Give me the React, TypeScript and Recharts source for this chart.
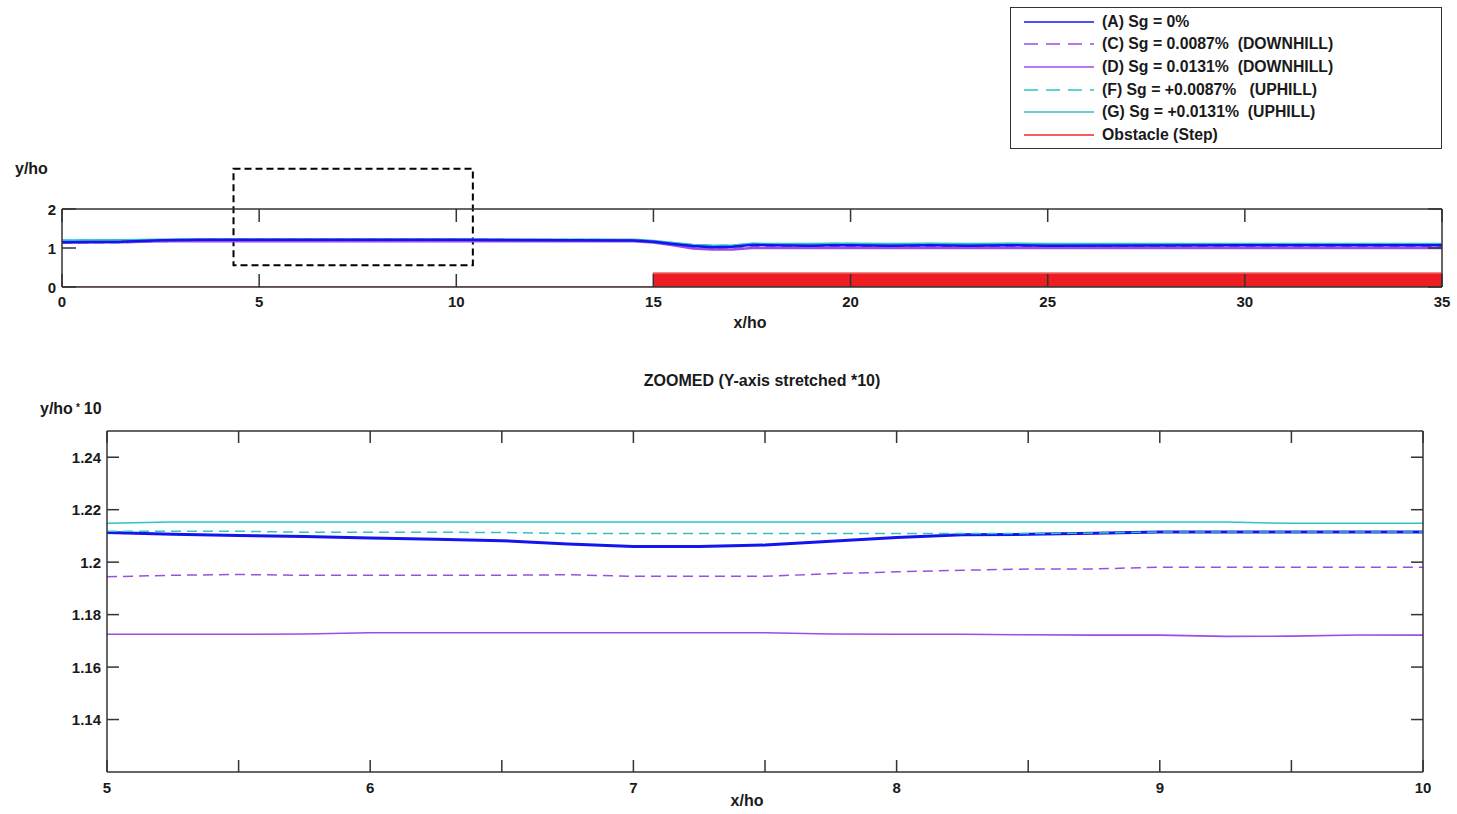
import React from 'react';
import { ComposedChart, Line, Area, XAxis, YAxis, ReferenceArea } from 'recharts';

const FONT = '"Liberation Sans", Arial, Helvetica, sans-serif';
const AXIS_COLOR = '#333333';
const TEXT_COLOR = '#1a1a1a';

// ---------- Overview chart data (x/ho 0..35) ----------
const overviewX = [0, 1.5, 2.5, 3.5, 5, 10, 14.5, 15, 15.5, 16, 16.5, 17, 17.5, 18, 19, 19.5, 20, 21, 22, 23, 24, 25, 30, 35];
const overviewA = [1.15, 1.16, 1.2, 1.21, 1.211, 1.2115, 1.19, 1.16, 1.1, 1.05, 1.02, 1.03, 1.08, 1.07, 1.06, 1.07, 1.07, 1.06, 1.07, 1.06, 1.07, 1.06, 1.07, 1.07];
const overviewC = [1.14, 1.15, 1.18, 1.19, 1.194, 1.198, 1.19, 1.16, 1.09, 1.02, 0.98, 0.98, 1.02, 1.03, 1.03, 1.03, 1.03, 1.03, 1.03, 1.03, 1.03, 1.03, 1.03, 1.03];
const overviewD = [1.14, 1.15, 1.17, 1.17, 1.1725, 1.1722, 1.17, 1.14, 1.07, 0.99, 0.96, 0.96, 1.0, 1.0, 1.0, 1.0, 1.0, 1.0, 1.0, 1.0, 1.0, 1.0, 1.0, 1.0];
const overviewF = [1.18, 1.19, 1.2, 1.21, 1.2118, 1.2115, 1.2, 1.17, 1.12, 1.07, 1.05, 1.06, 1.1, 1.09, 1.08, 1.1, 1.1, 1.09, 1.1, 1.09, 1.1, 1.09, 1.09, 1.09];
const overviewG = [1.19, 1.2, 1.21, 1.215, 1.2148, 1.2148, 1.21, 1.18, 1.13, 1.08, 1.06, 1.06, 1.11, 1.1, 1.1, 1.11, 1.11, 1.1, 1.11, 1.1, 1.11, 1.1, 1.1, 1.1];
const obstacle = [0, 0, 0, 0, 0, 0, 0, 0.36, 0.36, 0.36, 0.36, 0.36, 0.36, 0.36, 0.36, 0.36, 0.36, 0.36, 0.36, 0.36, 0.36, 0.36, 0.36, 0.36];
const overviewTicksX = [0, 5, 10, 15, 20, 25, 30, 35];
const overviewTicksY = [0, 1, 2];
const zoomWindowX = [4.35, 10.42];
const zoomWindowY = [0.56, 3.03];

// ---------- Zoomed chart data (x/ho 5..10) ----------
const zoomX = [5, 5.25, 5.5, 5.75, 6, 6.25, 6.5, 6.75, 7, 7.25, 7.5, 7.75, 8, 8.25, 8.5, 8.75, 9, 9.25, 9.5, 9.75, 10];
const zoomA = [1.2113, 1.2106, 1.2102, 1.2098, 1.2092, 1.2087, 1.2082, 1.2069, 1.206, 1.206, 1.2065, 1.208, 1.2094, 1.2104, 1.2106, 1.211, 1.2115, 1.2115, 1.2115, 1.2115, 1.2115];
const zoomC = [1.1944, 1.195, 1.1953, 1.195, 1.195, 1.195, 1.195, 1.1952, 1.1946, 1.1946, 1.1946, 1.1956, 1.1963, 1.1969, 1.1974, 1.1974, 1.1981, 1.1981, 1.1981, 1.1981, 1.1981];
const zoomD = [1.1725, 1.1725, 1.1725, 1.1726, 1.1731, 1.1731, 1.1731, 1.1731, 1.1731, 1.1731, 1.1731, 1.1726, 1.1725, 1.1725, 1.1723, 1.1722, 1.1722, 1.1717, 1.1718, 1.1722, 1.1722];
const zoomF = [1.2118, 1.2118, 1.2118, 1.2114, 1.2114, 1.2114, 1.2113, 1.2109, 1.2109, 1.2109, 1.2109, 1.2109, 1.2109, 1.2109, 1.2109, 1.2111, 1.2115, 1.2115, 1.2115, 1.2115, 1.2115];
const zoomG = [1.2148, 1.2153, 1.2153, 1.2153, 1.2153, 1.2153, 1.2153, 1.2153, 1.2153, 1.2153, 1.2153, 1.2153, 1.2153, 1.2153, 1.2153, 1.2153, 1.2153, 1.2153, 1.2148, 1.2148, 1.2148];
const zoomTicksX = [5, 5.5, 6, 6.5, 7, 7.5, 8, 8.5, 9, 9.5, 10];
const zoomTicksY = [1.14, 1.16, 1.18, 1.2, 1.22, 1.24];

// ---------- Series styling ----------
const SERIES = [
  { key: 'A', name: '(A) Sg = 0%', color: '#1414ee', dash: undefined as string | undefined },
  { key: 'C', name: '(C) Sg = 0.0087%  (DOWNHILL)', color: '#9a4ee6', dash: '10 6' },
  { key: 'D', name: '(D) Sg = 0.0131%  (DOWNHILL)', color: '#9a4ee6', dash: undefined },
  { key: 'F', name: '(F) Sg = +0.0087%   (UPHILL)', color: '#2ec4c4', dash: '10 6' },
  { key: 'G', name: '(G) Sg = +0.0131%  (UPHILL)', color: '#2ec4c4', dash: undefined },
  { key: 'obs', name: 'Obstacle (Step)', color: '#ee2a2a', dash: undefined },
];

const overviewData = overviewX.map((x, i) => ({
  x,
  A: overviewA[i],
  C: overviewC[i],
  D: overviewD[i],
  F: overviewF[i],
  G: overviewG[i],
  obs: obstacle[i],
}));

const zoomData = zoomX.map((x, i) => ({
  x,
  A: zoomA[i],
  C: zoomC[i],
  D: zoomD[i],
  F: zoomF[i],
  G: zoomG[i],
}));

const labelStyle = { fontFamily: FONT, fontSize: 15, fontWeight: 700, fill: TEXT_COLOR } as const;

const bottomTick = (len: number, gap: number, show: (v: number) => boolean) => (props: any) => {
  const { x, y, payload } = props;
  return (
    <g>
      <line x1={x} y1={y} x2={x} y2={y - len} stroke={AXIS_COLOR} strokeWidth={1.5} />
      {show(payload.value) ? (
        <text x={x} y={y + gap} textAnchor="middle" dominantBaseline="central" style={labelStyle}>
          {String(payload.value)}
        </text>
      ) : null}
    </g>
  );
};

const topTick = (len: number) => (props: any) => {
  const { x, y } = props;
  return <line x1={x} y1={y} x2={x} y2={y + len} stroke={AXIS_COLOR} strokeWidth={1.5} />;
};

const leftTick = (len: number, gap: number) => (props: any) => {
  const { x, y, payload } = props;
  return (
    <g>
      <line x1={x} y1={y} x2={x + len} y2={y} stroke={AXIS_COLOR} strokeWidth={1.5} />
      <text x={x - gap} y={y} textAnchor="end" dominantBaseline="central" style={labelStyle}>
        {String(payload.value)}
      </text>
    </g>
  );
};

const rightTick = (len: number) => (props: any) => {
  const { x, y } = props;
  return <line x1={x} y1={y} x2={x - len} y2={y} stroke={AXIS_COLOR} strokeWidth={1.5} />;
};

const axisLine = { stroke: AXIS_COLOR, strokeWidth: 1.5 };

const TextAt = ({ x, y, children, center }: { x: number; y: number; children: React.ReactNode; center?: boolean }) => (
  <div
    style={{
      position: 'absolute',
      left: center ? x - 300 : x,
      width: center ? 600 : undefined,
      top: y - 10,
      height: 20,
      lineHeight: '20px',
      textAlign: center ? 'center' : 'left',
      fontFamily: FONT,
      fontSize: 16,
      fontWeight: 700,
      color: TEXT_COLOR,
      whiteSpace: 'pre',
    }}
  >
    {children}
  </div>
);

const LegendBox = () => (
  <div
    style={{
      position: 'absolute',
      left: 1010,
      top: 7,
      width: 432,
      height: 142,
      border: '1.5px solid #333',
      boxSizing: 'border-box',
      background: '#fff',
    }}
  >
    {SERIES.map((s, i) => (
      <div
        key={s.key}
        style={{ position: 'absolute', left: 12, top: 3.5 + i * 22.7, height: 20, display: 'flex', alignItems: 'center' }}
      >
        <svg width={72} height={20} style={{ display: 'block' }}>
          <line x1={1} y1={10} x2={71} y2={10} stroke={s.color} strokeWidth={1.5} strokeDasharray={s.dash ? '14 8' : undefined} />
        </svg>
        <span
          style={{
            marginLeft: 7,
            fontFamily: FONT,
            fontSize: 15.8,
            fontWeight: 700,
            color: TEXT_COLOR,
            whiteSpace: 'pre',
            lineHeight: '20px',
          }}
        >
          {s.name}
        </span>
      </div>
    ))}
  </div>
);

export default function App() {
  const lines = SERIES.filter((s) => s.key !== 'obs');
  const obs = SERIES.find((s) => s.key === 'obs')!;
  const zoomOrder = ['D', 'C', 'A', 'F', 'G'];
  const zoomWidth: Record<string, number> = { A: 3, C: 1.5, D: 1.6, F: 1.5, G: 1.5 };
  return (
    <div style={{ position: 'absolute', left: 0, top: 0, width: 1457, height: 814, background: '#fff', overflow: 'hidden' }}>
      {/* Overview chart */}
      <div style={{ position: 'absolute', left: 0, top: 0 }}>
        <ComposedChart width={1457} height={340} data={overviewData} margin={{ top: 199, right: 5, bottom: 23, left: 22 }}>
          <XAxis
            xAxisId="b"
            dataKey="x"
            type="number"
            domain={[0, 35]}
            ticks={overviewTicksX}
            interval={0}
            height={30}
            tickSize={0}
            tickMargin={0}
            tickLine={false}
            axisLine={axisLine}
            tick={bottomTick(13, 14, () => true)}
            allowDataOverflow
          />
          <XAxis
            xAxisId="t"
            orientation="top"
            dataKey="x"
            type="number"
            domain={[0, 35]}
            ticks={overviewTicksX}
            interval={0}
            height={10}
            tickSize={0}
            tickMargin={0}
            tickLine={false}
            axisLine={axisLine}
            tick={topTick(13)}
            allowDataOverflow
          />
          <YAxis
            yAxisId="l"
            type="number"
            domain={[0, 2]}
            ticks={overviewTicksY}
            interval={0}
            width={40}
            tickSize={0}
            tickMargin={0}
            tickLine={false}
            axisLine={axisLine}
            tick={leftTick(14, 6)}
            allowDataOverflow
          />
          <YAxis
            yAxisId="r"
            orientation="right"
            type="number"
            domain={[0, 2]}
            ticks={overviewTicksY}
            interval={0}
            width={10}
            tickSize={0}
            tickMargin={0}
            tickLine={false}
            axisLine={axisLine}
            tick={rightTick(14)}
            allowDataOverflow
          />
          <Area
            xAxisId="b"
            yAxisId="l"
            type="stepAfter"
            dataKey="obs"
            name={obs.name}
            stroke="#f06464"
            strokeWidth={1.5}
            fill="#ee1d24"
            fillOpacity={1}
            isAnimationActive={false}
            dot={false}
            activeDot={false}
          />
          {['G', 'F', 'D', 'C', 'A'].map((k) => {
            const s = lines.find((l) => l.key === k)!;
            return (
              <Line
                key={k}
                xAxisId="b"
                yAxisId="l"
                type="linear"
                dataKey={k}
                name={s.name}
                stroke={s.color}
                strokeWidth={2.5}
                strokeDasharray={s.dash}
                dot={false}
                activeDot={false}
                isAnimationActive={false}
              />
            );
          })}
          <ReferenceArea
            xAxisId="b"
            yAxisId="l"
            x1={zoomWindowX[0]}
            x2={zoomWindowX[1]}
            y1={zoomWindowY[0]}
            y2={zoomWindowY[1]}
            fill="none"
            fillOpacity={0}
            stroke="#000"
            strokeWidth={2}
            strokeDasharray="7 4"
            ifOverflow="visible"
          />
        </ComposedChart>
      </div>

      {/* Zoomed chart */}
      <div style={{ position: 'absolute', left: 0, top: 340 }}>
        <ComposedChart width={1457} height={474} data={zoomData} margin={{ top: 81, right: 24, bottom: 12, left: 47 }}>
          <XAxis
            xAxisId="b"
            dataKey="x"
            type="number"
            domain={[5, 10]}
            ticks={zoomTicksX}
            interval={0}
            height={30}
            tickSize={0}
            tickMargin={0}
            tickLine={false}
            axisLine={axisLine}
            tick={bottomTick(12, 15, (v) => Number.isInteger(v))}
            allowDataOverflow
          />
          <XAxis
            xAxisId="t"
            orientation="top"
            dataKey="x"
            type="number"
            domain={[5, 10]}
            ticks={zoomTicksX}
            interval={0}
            height={10}
            tickSize={0}
            tickMargin={0}
            tickLine={false}
            axisLine={axisLine}
            tick={topTick(12)}
            allowDataOverflow
          />
          <YAxis
            yAxisId="l"
            type="number"
            domain={[1.12, 1.25]}
            ticks={zoomTicksY}
            interval={0}
            width={60}
            tickSize={0}
            tickMargin={0}
            tickLine={false}
            axisLine={axisLine}
            tick={leftTick(12, 6)}
            allowDataOverflow
          />
          <YAxis
            yAxisId="r"
            orientation="right"
            type="number"
            domain={[1.12, 1.25]}
            ticks={zoomTicksY}
            interval={0}
            width={10}
            tickSize={0}
            tickMargin={0}
            tickLine={false}
            axisLine={axisLine}
            tick={rightTick(12)}
            allowDataOverflow
          />
          {zoomOrder.map((k) => {
            const s = lines.find((l) => l.key === k)!;
            return (
              <Line
                key={k}
                xAxisId="b"
                yAxisId="l"
                type="linear"
                dataKey={k}
                name={s.name}
                stroke={s.color}
                strokeWidth={zoomWidth[k]}
                strokeDasharray={s.dash}
                dot={false}
                activeDot={false}
                isAnimationActive={false}
              />
            );
          })}
        </ComposedChart>
      </div>

      <TextAt x={15} y={169}>y/ho</TextAt>
      <TextAt x={750} y={323} center>x/ho</TextAt>
      <TextAt x={762} y={381} center>ZOOMED (Y-axis stretched *10)</TextAt>
      <TextAt x={40} y={409}>
        y/ho<span style={{ fontSize: 10, position: 'relative', top: -3, margin: '0 4px 0 3px' }}>*</span>10
      </TextAt>
      <TextAt x={747} y={801} center>x/ho</TextAt>

      <LegendBox />
    </div>
  );
}
